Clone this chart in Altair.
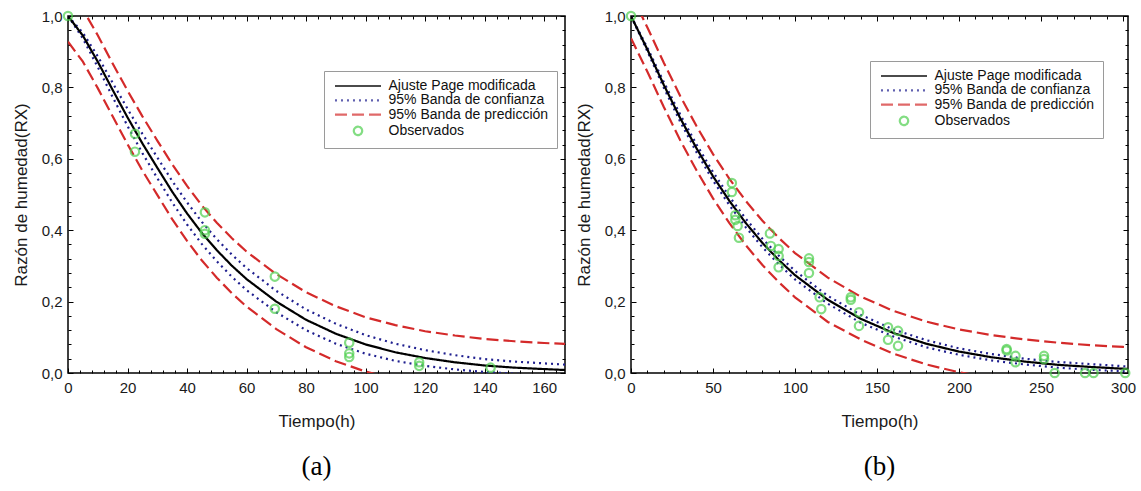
import altair as alt
import pandas as pd

# ---------------- series names / styles ----------------
SERIES = ["Ajuste Page modificada", "95% Banda de confianza",
          "95% Banda de predicción", "Observados"]
COLORS = ["#000000", "#1f1f8f", "#d42a2a", "#4fd04f"]
DASHES = [[1, 0], [2, 4], [12, 5], [1, 0]]
WIDTHS = [2.2, 2.2, 2.6, 1.4]
LINE_SYMBOL = "M-5.5,0H5.5"
SHAPES = [LINE_SYMBOL, LINE_SYMBOL, LINE_SYMBOL, "circle"]

# ---------------- panel (a) ----------------
T_A = [0, 5, 10, 15, 20, 25, 30, 35, 40, 45, 50, 55, 60, 70, 80, 90, 100,
       110, 120, 130, 140, 150, 160, 168]
FIT_A = [1.000, 0.945, 0.872, 0.793, 0.716, 0.643, 0.575, 0.508, 0.447, 0.392,
         0.344, 0.301, 0.263, 0.200, 0.149, 0.110, 0.080, 0.058, 0.042, 0.030,
         0.021, 0.015, 0.011, 0.008]
CONF_UP_A = [1.000, 0.953, 0.887, 0.813, 0.740, 0.670, 0.604, 0.538, 0.478, 0.423,
             0.375, 0.332, 0.294, 0.230, 0.178, 0.138, 0.106, 0.082, 0.064, 0.050,
             0.039, 0.032, 0.027, 0.023]
CONF_LO_A = [1.000, 0.937, 0.857, 0.773, 0.692, 0.616, 0.546, 0.478, 0.416, 0.361,
             0.313, 0.270, 0.232, 0.170, 0.120, 0.082, 0.054, 0.034, 0.020, 0.010,
             0.003, -0.002, -0.005, -0.007]
PRED_UP_A = [1.072, 1.018, 0.946, 0.867, 0.791, 0.719, 0.651, 0.585, 0.524, 0.469,
             0.421, 0.378, 0.340, 0.277, 0.226, 0.187, 0.156, 0.134, 0.117, 0.105,
             0.095, 0.089, 0.084, 0.081]
PRED_LO_A = [0.928, 0.872, 0.798, 0.719, 0.641, 0.567, 0.499, 0.431, 0.370, 0.315,
             0.267, 0.224, 0.186, 0.123, 0.072, 0.033, 0.004, -0.018, -0.033, -0.045,
             -0.053, -0.059, -0.062, -0.065]
OBS_T_A = [0, 22.5, 22.5, 46, 46, 46, 69.5, 69.5, 94.5, 94.5, 94.5, 118, 118, 142]
OBS_RX_A = [1.0, 0.62, 0.67, 0.45, 0.40, 0.39, 0.27, 0.18, 0.085, 0.055, 0.045,
            0.03, 0.02, 0.015]
X_MAJOR_A = [0, 20, 40, 60, 80, 100, 120, 140, 160]
X_MINOR_A = [v for v in range(4, 168, 4) if v % 20 != 0]

# ---------------- panel (b) ----------------
T_B = [0, 10, 20, 30, 40, 50, 60, 70, 80, 90, 100, 120, 140, 160, 180, 200, 220,
       240, 260, 280, 300, 304]
FIT_B = [1.000, 0.906, 0.807, 0.714, 0.629, 0.551, 0.482, 0.420, 0.365, 0.317,
         0.274, 0.205, 0.152, 0.112, 0.082, 0.060, 0.044, 0.032, 0.023, 0.017,
         0.012, 0.011]
CONF_UP_B = [1.000, 0.911, 0.815, 0.724, 0.640, 0.563, 0.494, 0.432, 0.377, 0.329,
             0.286, 0.216, 0.163, 0.122, 0.092, 0.069, 0.053, 0.040, 0.031, 0.025,
             0.019, 0.018]
CONF_LO_B = [1.000, 0.901, 0.799, 0.704, 0.618, 0.539, 0.470, 0.408, 0.353, 0.305,
             0.262, 0.194, 0.141, 0.102, 0.072, 0.051, 0.035, 0.024, 0.015, 0.009,
             0.005, 0.004]
PRED_UP_B = [1.062, 0.968, 0.869, 0.776, 0.691, 0.613, 0.544, 0.482, 0.427, 0.379,
             0.336, 0.267, 0.214, 0.174, 0.144, 0.122, 0.106, 0.094, 0.085, 0.078,
             0.073, 0.072]
PRED_LO_B = [0.938, 0.844, 0.745, 0.652, 0.567, 0.489, 0.420, 0.358, 0.303, 0.255,
             0.212, 0.143, 0.094, 0.054, 0.024, 0.002, -0.014, -0.026, -0.035, -0.041,
             -0.046, -0.047]
OBS_T_B = [0, 61.5, 61.5, 63.6, 63.6, 65, 65.8, 84.7, 85.3, 90, 90, 90,
           108.5, 108.5, 108.5, 115, 116, 134, 134, 139, 139, 156.7, 156.7,
           162.8, 162.8, 229, 229, 234.4, 234.4, 251.8, 251.8, 258.3, 276.8, 282, 301.3]
OBS_RX_B = [1.0, 0.532, 0.507, 0.442, 0.429, 0.412, 0.379, 0.391, 0.356, 0.347, 0.328,
            0.296, 0.321, 0.311, 0.28, 0.212, 0.179, 0.212, 0.205, 0.17, 0.132, 0.128,
            0.093, 0.118, 0.076, 0.067, 0.063, 0.048, 0.03, 0.048, 0.039, 0.0, 0.0,
            0.0, 0.0]
X_MAJOR_B = [0, 50, 100, 150, 200, 250, 300]
X_MINOR_B = [v for v in range(10, 304, 10) if v % 50 != 0]

Y_MAJOR = [0.0, 0.2, 0.4, 0.6, 0.8, 1.0]
Y_MINOR = [0.04, 0.08, 0.12, 0.16, 0.24, 0.28, 0.32, 0.36, 0.44, 0.48, 0.52, 0.56,
           0.64, 0.68, 0.72, 0.76, 0.84, 0.88, 0.92, 0.96]

FONT = "Liberation Sans"
LABEL_EXPR = "replace(format(datum.value, '.1f'), '.', ',')"


def band_df(t, up, lo, name):
    return pd.DataFrame({
        "t": list(t) + list(t),
        "rx": list(up) + list(lo),
        "rama": ["sup"] * len(t) + ["inf"] * len(t),
        "serie": [name] * (2 * len(t)),
    })


def tick_axis(orient, values, size):
    return alt.Axis(orient=orient, values=values, labels=False, domain=False,
                    grid=False, title=None, ticks=True, tickColor="#000000",
                    tickWidth=1, tickSize=alt.ExprRef(expr=str(-size)))


def panel(t, fit, cu, cl, pu, pl, ot, orx, xmax, xmaj, xmin, lx, ly, caption):
    sx = alt.Scale(domain=[0, xmax], nice=False, zero=False)
    sy = alt.Scale(domain=[0, 1], nice=False, zero=False)
    leg = alt.Legend(
        title=None, orient="none", legendX=lx, legendY=ly,
        symbolSize=70, symbolOffset=19, symbolFillColor="transparent",
        labelFont=FONT, labelFontSize=14, labelColor="#111111",
        labelOffset=23.5, padding=8, rowPadding=0.3,
        fillColor="#ffffff", strokeColor="#9a9a9a",
    )
    col = alt.Color("serie:N", scale=alt.Scale(domain=SERIES, range=COLORS), legend=leg)
    dash = alt.StrokeDash("serie:N", scale=alt.Scale(domain=SERIES, range=DASHES), legend=leg)
    wid = alt.StrokeWidth("serie:N", scale=alt.Scale(domain=SERIES, range=WIDTHS), legend=leg)
    shp = alt.Shape("serie:N", scale=alt.Scale(domain=SERIES, range=SHAPES), legend=leg)

    x_main = alt.Axis(orient="bottom", values=xmaj, title="Tiempo(h)", grid=False,
                      domain=False, labelFont=FONT, labelFontSize=15, labelColor="#1a1a1a",
                      labelFlush=False, labelPadding=12, tickColor="#000000",
                      tickSize=alt.ExprRef(expr="-5"), titleFont=FONT, titleFontSize=17,
                      titleFontWeight="normal", titleColor="#1a1a1a", titlePadding=18)
    y_main = alt.Axis(orient="left", values=Y_MAJOR, title="Razón de humedad(RX)",
                      grid=False, domain=False, labelFont=FONT, labelFontSize=15,
                      labelColor="#1a1a1a", labelExpr=LABEL_EXPR, labelPadding=11,
                      tickColor="#000000", tickSize=alt.ExprRef(expr="-5"),
                      titleFont=FONT, titleFontSize=17, titleFontWeight="normal",
                      titleColor="#1a1a1a", titlePadding=11)

    pred = alt.Chart(band_df(t, pu, pl, SERIES[2])).mark_line(clip=True).encode(
        x=alt.X("t:Q", scale=sx, axis=x_main),
        y=alt.Y("rx:Q", scale=sy, axis=y_main),
        color=col, strokeDash=dash, strokeWidth=wid, detail="rama:N")
    conf = alt.Chart(band_df(t, cu, cl, SERIES[1])).mark_line(clip=True).encode(
        x=alt.X("t:Q", scale=sx, axis=tick_axis("top", xmaj, 5)),
        y=alt.Y("rx:Q", scale=sy, axis=tick_axis("right", Y_MAJOR, 5)),
        color=col, strokeDash=dash, strokeWidth=wid, detail="rama:N")
    fitc = alt.Chart(pd.DataFrame({"t": t, "rx": fit, "serie": SERIES[0]})).mark_line(
        clip=True).encode(
        x=alt.X("t:Q", scale=sx, axis=tick_axis("bottom", xmin, 3)),
        y=alt.Y("rx:Q", scale=sy, axis=tick_axis("left", Y_MINOR, 3)),
        color=col, strokeDash=dash, strokeWidth=wid)
    obs = alt.Chart(pd.DataFrame({"t": ot, "rx": orx, "serie": SERIES[3]})).mark_point(
        filled=False, size=70).encode(
        x=alt.X("t:Q", scale=sx, axis=tick_axis("top", xmin, 3)),
        y=alt.Y("rx:Q", scale=sy, axis=tick_axis("right", Y_MINOR, 3)),
        color=col, strokeWidth=wid, shape=shp)

    return alt.layer(pred, conf, fitc, obs).resolve_axis(
        x="independent", y="independent").properties(
        width=497, height=357,
        title=alt.TitleParams(caption, orient="bottom", font="Liberation Serif",
                              fontSize=27, fontWeight="normal", color="#000000",
                              anchor="middle", frame="group", offset=25))


pa = panel(T_A, FIT_A, CONF_UP_A, CONF_LO_A, PRED_UP_A, PRED_LO_A, OBS_T_A, OBS_RX_A,
           167, X_MAJOR_A, X_MINOR_A, 256, 55, "(a)")
pb = panel(T_B, FIT_B, CONF_UP_B, CONF_LO_B, PRED_UP_B, PRED_LO_B, OBS_T_B, OBS_RX_B,
           303, X_MAJOR_B, X_MINOR_B, 239, 45, "(b)")

chart = alt.hconcat(pa, pb, spacing=7).resolve_scale(
    color="independent", strokeDash="independent", strokeWidth="independent",
    shape="independent").properties(
    padding={"left": 11, "top": 6, "right": 0, "bottom": 2},
    background="#ffffff").configure_view(stroke="#000000", strokeWidth=1.5)

chart.save("out.html", embed_options={"renderer": "svg", "actions": False})
